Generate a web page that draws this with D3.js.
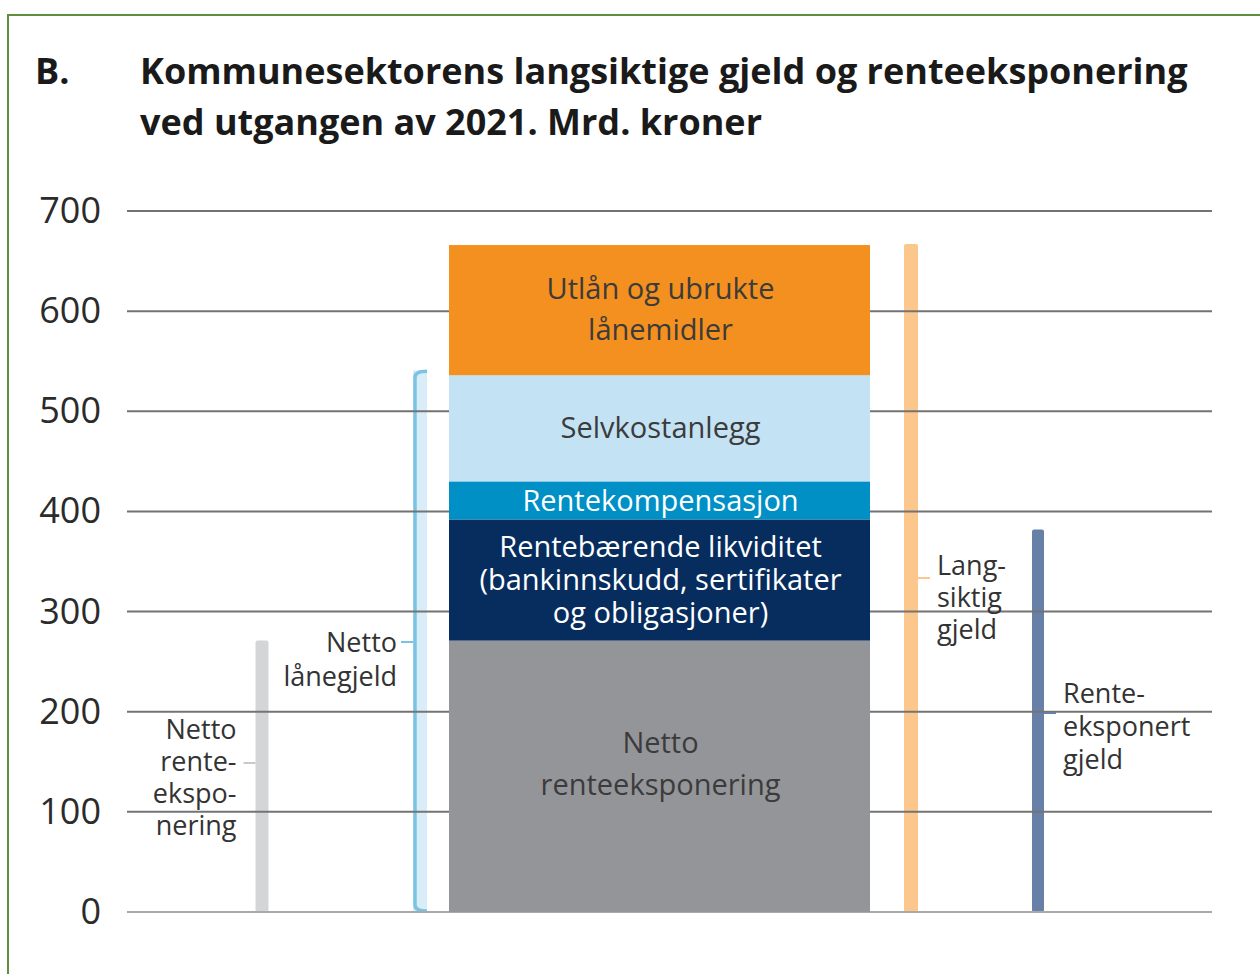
<!DOCTYPE html>
<html>
<head>
<meta charset="utf-8">
<script src="https://cdn.jsdelivr.net/npm/d3@7"></script>
<style>
  body { margin: 0; background: #fff; }
  svg { display: block; font-family: "Open Sans", "Noto Sans", sans-serif; }
</style>
</head>
<body>
<div id="chart"></div>
<script>
// DATA
var stackKeys = ["Netto renteeksponering", "Rentebærende likviditet", "Rentekompensasjon", "Selvkostanlegg", "Utlån og ubrukte lånemidler"];
var stackValues = [271, 121, 38, 106, 130];
var stackLabels = [
  ["Netto", "renteeksponering"],
  ["Rentebærende likviditet", "(bankinnskudd, sertifikater", "og obligasjoner)"],
  ["Rentekompensasjon"],
  ["Selvkostanlegg"],
  ["Utlån og ubrukte", "lånemidler"]
];
var sideKeys = ["Netto renteeksponering", "Netto lånegjeld", "Langsiktig gjeld", "Renteeksponert gjeld"];
var sideValues = [271, 541, 667, 382];
var sideLabels = [
  ["Netto", "rente-", "ekspo-", "nering"],
  ["Netto", "lånegjeld"],
  ["Lang-", "siktig", "gjeld"],
  ["Rente-", "eksponert", "gjeld"]
];
var yTicks = [0, 100, 200, 300, 400, 500, 600, 700];

// LAYOUT
var width = 1260, height = 974;
var stackColors = ["#949599", "#062d5e", "#0090c6", "#c3e2f4", "#f3901f"];
var stackText = ["#3b3b3b", "#ffffff", "#ffffff", "#3b3b3b", "#3b3b3b"];
var sideColors = ["#d4d5d7", "#d8edf8", "#fbc78d", "#6680a8"];
var tickColors = ["#c8c9cb", "#7cc3e3", "#fbc78d", "#6680a8"];
var sideX = d3.scaleOrdinal().domain(sideKeys).range([262, 420, 911, 1038]);
var sideW = [13, 14, 14, 12];
// label side: -1 = left of bar, 1 = right of bar
var labelSide = [-1, -1, 1, 1];

var y = d3.scaleLinear().domain([0, 700]).range([912, 211]);

var svg = d3.select('#chart')
  .append('svg')
  .attr('width', width)
  .attr('height', height);

// frame
svg.append('rect')
  .attr('x', 8).attr('y', 15)
  .attr('width', 1270).attr('height', 1000)
  .attr('fill', 'none')
  .attr('stroke', '#5e8f3e')
  .attr('stroke-width', 2);

// title
svg.append('text')
  .attr('x', 35).attr('y', 84)
  .attr('font-size', 36).attr('font-weight', 700).attr('fill', '#1a1a1a')
  .text('B.');
var title = svg.append('text')
  .attr('font-size', 36).attr('font-weight', 700).attr('fill', '#1a1a1a');
title.append('tspan').attr('x', 140).attr('y', 84)
  .text('Kommunesektorens langsiktige gjeld og renteeksponering');
title.append('tspan').attr('x', 140).attr('y', 135)
  .text('ved utgangen av 2021. Mrd. kroner');

// y axis labels
svg.append('g').selectAll('text')
  .data(yTicks)
  .join('text')
  .attr('x', 101)
  .attr('y', function (d) { return y(d) + 12; })
  .attr('text-anchor', 'end')
  .attr('font-size', 36)
  .attr('fill', '#2b2b2b')
  .text(function (d) { return d; });

// side bars (under gridlines)
var side = svg.append('g');
sideKeys.forEach(function (k, i) {
  var cx = sideX(k), w = sideW[i];
  var top = y(sideValues[i]), bot = y(0);
  side.append('rect')
    .attr('x', cx - w / 2).attr('y', top)
    .attr('width', w).attr('height', bot - top)
    .attr('rx', i == 1 ? 0 : 2)
    .attr('fill', sideColors[i]);
  if (i == 1) {
    var x0 = cx - w / 2 + 2, x1 = cx + w / 2;
    side.append('path')
      .attr('d', 'M' + x1 + ',' + (top + 1) + ' Q' + x0 + ',' + (top + 1) + ' ' + x0 + ',' + (top + 7) +
        ' L' + x0 + ',' + (bot - 7) + ' Q' + x0 + ',' + (bot - 1) + ' ' + x1 + ',' + (bot - 1))
      .attr('fill', 'none')
      .attr('stroke', tickColors[i])
      .attr('stroke-width', 3.5);
  }
});

// gridlines
svg.append('g').selectAll('line')
  .data(yTicks)
  .join('line')
  .attr('x1', 127).attr('x2', 1212)
  .attr('y1', function (d) { return y(d); })
  .attr('y2', function (d) { return y(d); })
  .attr('stroke', function (d) { return d == 0 ? '#a9a9a9' : '#737373'; })
  .attr('stroke-width', 2);

// stacked bar
var row = {};
stackKeys.forEach(function (k, i) { row[k] = stackValues[i]; });
var series = d3.stack().keys(stackKeys)([row]);
var barX0 = 449, barX1 = 870, barCx = (barX0 + barX1) / 2;

var seg = svg.append('g').selectAll('g')
  .data(series)
  .join('g');
seg.append('rect')
  .attr('x', barX0)
  .attr('width', barX1 - barX0)
  .attr('y', function (d) { return y(d[0][1]); })
  .attr('height', function (d) { return y(d[0][0]) - y(d[0][1]); })
  .attr('fill', function (d, i) { return stackColors[i]; });

var lineH = [42, 33, 32, 32, 41];
seg.each(function (d, i) {
  var lines = stackLabels[i];
  var mid = (y(d[0][0]) + y(d[0][1])) / 2;
  var lh = lineH[i];
  var first = mid - (lines.length - 1) * lh / 2 + 10;
  if (i == 0) first = y(d[0][1]) + 112;
  if (i == 2) first = mid + 11;
  if (i == 4) first = y(d[0][1]) + 54;
  d3.select(this).selectAll('text')
    .data(lines)
    .join('text')
    .attr('x', barCx + 1)
    .attr('y', function (t, j) { return first + j * lh; })
    .attr('text-anchor', 'middle')
    .attr('font-size', 29)
    .attr('fill', stackText[i])
    .text(function (t) { return t; });
});

// side labels with leader ticks
var labelY0 = [739, 652, 575, 703];
var labelLh = [32, 34, 32, 33];
var tickY = [763, 642, 578, 713];
var lab = svg.append('g');
sideKeys.forEach(function (k, i) {
  var cx = sideX(k), w = sideW[i];
  var edge = cx + labelSide[i] * w / 2;
  lab.append('line')
    .attr('x1', edge).attr('x2', edge + labelSide[i] * 12)
    .attr('y1', tickY[i]).attr('y2', tickY[i])
    .attr('stroke', tickColors[i])
    .attr('stroke-width', 2);
  lab.append('g').selectAll('text')
    .data(sideLabels[i])
    .join('text')
    .attr('x', edge + labelSide[i] * (i == 0 ? 19 : (i == 1 ? 16 : 19)))
    .attr('y', function (t, j) { return labelY0[i] + j * labelLh[i]; })
    .attr('text-anchor', labelSide[i] < 0 ? 'end' : 'start')
    .attr('font-size', 27)
    .attr('fill', '#333')
    .text(function (t) { return t; });
});
</script>
</body>
</html>
